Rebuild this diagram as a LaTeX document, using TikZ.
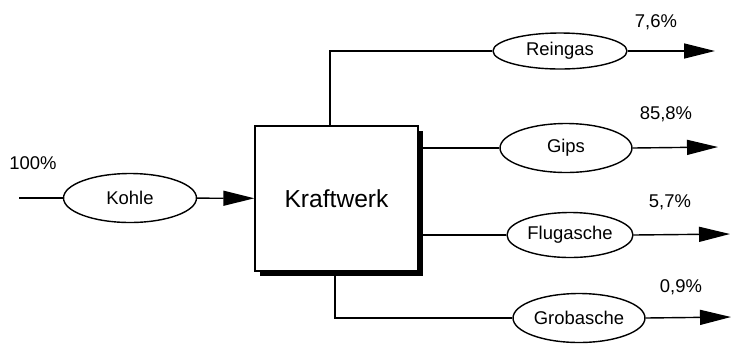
\documentclass[tikz,border=0pt]{standalone}
\usepackage{fontspec}
\setmainfont{Liberation Sans}
\usetikzlibrary{shapes.geometric,arrows.meta,shadows}
\tikzset{
  stoff/.style={ellipse,draw,inner sep=0pt,fill=white,font=\fontsize{10.5}{12}\selectfont},
  pfeil/.style={-{Triangle[length=0.62cm,width=0.3cm]}},
  anteil/.style={font=\fontsize{10.5}{12}\selectfont},
}
\begin{document}
\begin{tikzpicture}[x=0.02cm,y=-0.02cm,line width=0.8pt]
            \useasboundingbox (0,0) rectangle (731,343);
            \path (19,198) coordinate (ein);
            \path (715,51) coordinate (aus1);
            \path (718,147) coordinate (aus2);
            \path (730,234) coordinate (aus3);
            \path (731,317) coordinate (aus4);

            \node[draw, fill=white, minimum width=3.26cm, minimum height=2.9cm,
                  drop shadow={shadow xshift=2.8pt, shadow yshift=-2.8pt, fill=black, opacity=1},
                  font=\fontsize{14}{16}\selectfont] (kw) at (336.5,198.5) {Kraftwerk};

            \node[stoff, minimum width=2.66cm, minimum height=0.98cm] (kohle) at (130,198) {Kohle};
            \node[stoff, minimum width=2.68cm, minimum height=0.72cm] (rein) at (560,51) {Reingas};
            \node[stoff, minimum width=2.64cm, minimum height=0.98cm] (gips) at (566,148) {Gips};
            \node[stoff, minimum width=2.52cm, minimum height=0.9cm] (flug) at (570,235) {Flugasche};
            \node[stoff, minimum width=2.64cm, minimum height=0.98cm] (grob) at (579,318) {Grobasche};

            \node[anteil] (p0) at (33,163) {100\%};
            \node[anteil] (p1) at (656,22) {7,6\%};
            \node[anteil] (p2) at (666,114) {85,8\%};
            \node[anteil] (p3) at (670,202) {5,7\%};
            \node[anteil] (p4) at (681,287) {0,9\%};

            \draw (ein) -- (kohle);
            \draw[pfeil] (kohle) -- (kw);
            \draw ([xshift=-0.13cm]kw.north) |- (rein.west);
            \draw (gips.west -| kw.east) -- (gips.west);
            \draw (flug.west -| kw.east) -- (flug.west);
            \draw ([xshift=-0.03cm]kw.south) |- (grob.west);
            \draw[pfeil] (rein.east) -- (aus1);
            \draw[pfeil] (gips.east) -- (aus2);
            \draw[pfeil] (flug.east) -- (aus3);
            \draw[pfeil] (grob.east) -- (aus4);
        \end{tikzpicture}
\end{document}
